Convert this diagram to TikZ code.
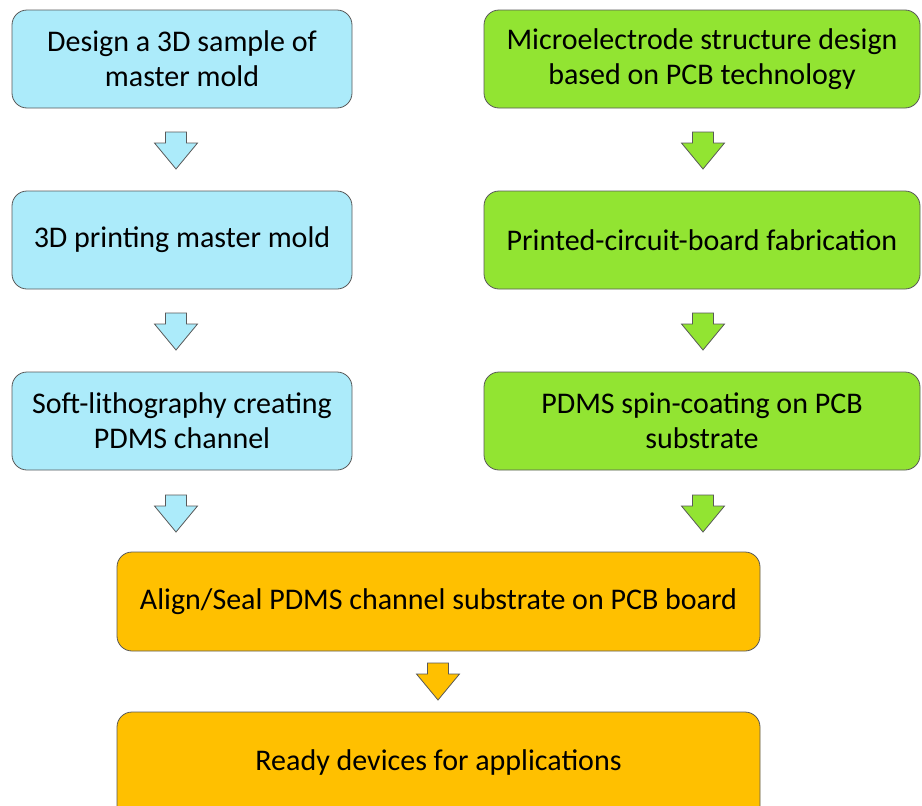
\documentclass[tikz,border=0pt]{standalone}
\usepackage{fontspec}
\setmainfont{Carlito}
\usetikzlibrary{positioning}

\definecolor{moldblue}{HTML}{ACEBFA}
\definecolor{pcbgreen}{HTML}{92E432}
\definecolor{sealorange}{HTML}{FFC000}
\definecolor{edgegray}{HTML}{595959}

\tikzset{
  stepbox/.style={rectangle, rounded corners=15pt, draw=edgegray, line width=0.8pt,
    align=center, inner sep=0pt, font=\fontsize{30}{35}\selectfont},
  leftbox/.style={stepbox, fill=moldblue, minimum width=340pt, minimum height=98pt},
  rightbox/.style={stepbox, fill=pcbgreen, minimum width=436pt, minimum height=98pt},
  wide box/.style={stepbox, fill=sealorange, minimum width=643pt, minimum height=99pt}
}

% block arrow: x, y of its middle, fill colour
\newcommand{\blockarrow}[3]{%
  \draw[draw=edgegray, line width=0.8pt, fill=#3, line join=miter]
    (#1-10.5,#2-18.5) -- (#1+10.5,#2-18.5) -- (#1+10.5,#2-7.5) -- (#1+21.5,#2-7.5)
    -- (#1,#2+18.5) -- (#1-21.5,#2-7.5) -- (#1-10.5,#2-7.5) -- cycle;}

\begin{document}
\begin{tikzpicture}[x=1pt, y=-1pt]
    \useasboundingbox (0,0) rectangle (922,806);
    \clip (0,0) rectangle (922,806);

    % Left column
    \node[leftbox] (design) at (182,59) {Design a 3D sample of\\master mold};
    \node[leftbox] (print) at (182,240) {3D printing master mold};
    \node[leftbox] (litho) at (182,421) {Soft-lithography creating\\PDMS channel};

    % Right column
    \node[rightbox] (electrode) at (702,59) {Microelectrode structure design\\based on PCB technology};
    \node[rightbox] (fab) at (702,240) {Printed-circuit-board fabrication};
    \node[rightbox] (spin) at (702,421) {PDMS spin-coating on PCB\\substrate};

    % Bottom
    \node[wide box] (seal) at (438.5,601.5) {Align/Seal PDMS channel substrate on PCB board};
    \node[wide box, minimum height=110pt] (ready) at (438.5,767) {};
    \node[font=\fontsize{30}{35}\selectfont] (readytext) at (438.5,762) {Ready devices for applications};

    % Arrows
    \blockarrow{176}{150.5}{moldblue}
    \blockarrow{176}{331.5}{moldblue}
    \blockarrow{176}{513.5}{moldblue}
    \blockarrow{703}{150.5}{pcbgreen}
    \blockarrow{703}{331.5}{pcbgreen}
    \blockarrow{703}{513.5}{pcbgreen}
    \blockarrow{438}{681.5}{sealorange}
\end{tikzpicture}
\end{document}
